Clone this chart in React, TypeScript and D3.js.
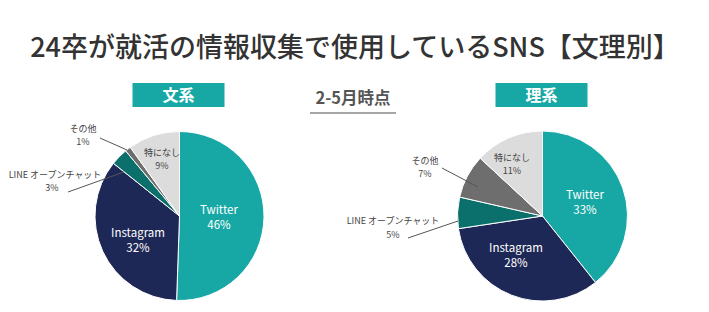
import React from "react";
import * as d3 from "d3";

// 2-5月時点の集計値（ラベルに表示されている数値）
const categories = ["Twitter", "Instagram", "LINE オープンチャット", "その他", "特になし"];
const bunkeiValues = [46, 32, 3, 1, 9];
const rikeiValues = [33, 28, 5, 7, 11];
const colors = ["#17a8a5", "#1e2856", "#0b6f6c", "#6e6e6e", "#dcdcdc"];

const FONT = "'Noto Sans CJK JP', 'Noto Sans', sans-serif";

type LabelSpec = {
  x: number;
  y: number;
  size: number;
  gap: number;
  color: string;
  x2?: number;
  line?: [number, number, number, number];
};

function Pie({ cx, cy, r, values, title, labels }: { cx: number; cy: number; r: number; values: number[]; title: string; labels: LabelSpec[] }) {
  const pie = d3.pie<number>().sort(null).value((d) => d);
  const arc = d3.arc<d3.PieArcDatum<number>>().innerRadius(0).outerRadius(r);
  const arcs = pie(values);

  return (
    <g>
      <rect x={cx - 47} y={83} width={92} height={24} fill="#17a8a5" />
      <text x={cx - 1} y={101} textAnchor="middle" fill="#fff" fontSize={16} fontWeight="bold" fontFamily={FONT}>
        {title}
      </text>
      <g transform={`translate(${cx},${cy})`}>
        {arcs.map((a, i) => (
          <path key={i} d={arc(a) || ""} fill={colors[i]} stroke="#fff" strokeWidth={1} />
        ))}
      </g>
      {labels.map((l, i) => (
        <g key={i}>
          {l.line && <line x1={l.line[0]} y1={l.line[1]} x2={l.line[2]} y2={l.line[3]} stroke="#555" strokeWidth={1} />}
          <text x={l.x} y={l.y} textAnchor="middle" fill={l.color} fontSize={l.size} fontFamily={FONT}>
            {categories[i]}
          </text>
          <text x={l.x2 ?? l.x} y={l.y + l.gap} textAnchor="middle" fill={l.color} fontSize={l.size} fontFamily={FONT}>
            {values[i]}%
          </text>
        </g>
      ))}
    </g>
  );
}

export default function App() {
  const leftLabels: LabelSpec[] = [
    { x: 219, y: 214, size: 11.5, gap: 15, color: "#fff" },
    { x: 138, y: 237, size: 11.5, gap: 15, color: "#fff" },
    { x: 55, y: 178, x2: 52, size: 9, gap: 13, color: "#444", line: [68, 192, 124, 172] },
    { x: 83, y: 132, size: 9, gap: 13, color: "#444", line: [100, 138, 127, 150] },
    { x: 162, y: 156, size: 9, gap: 12.5, color: "#444" },
  ];
  const rightLabels: LabelSpec[] = [
    { x: 585, y: 199, size: 11.5, gap: 15, color: "#fff" },
    { x: 516, y: 252, size: 11.5, gap: 15, color: "#fff" },
    { x: 393, y: 224, size: 9, gap: 14, color: "#444", line: [408, 238, 458, 221] },
    { x: 425, y: 164, size: 9, gap: 12.5, color: "#444", line: [442, 168, 478, 187] },
    { x: 512, y: 161, size: 9, gap: 12.5, color: "#444" },
  ];

  return (
    <svg width={709} height={312} style={{ position: "absolute", left: 0, top: 0, background: "#fff" }}>
      <text x={355} y={57} textAnchor="middle" fill="#333" fontSize={27} fontWeight={500} fontFamily={FONT}>
        24卒が就活の情報収集で使用しているSNS【文理別】
      </text>
      <text x={353} y={104} textAnchor="middle" fill="#555" fontSize={16.5} fontWeight="bold" fontFamily={FONT}>
        2-5月時点
      </text>
      <line x1={310} y1={113} x2={396} y2={113} stroke="#888" strokeWidth={1.5} />
      <Pie cx={179.5} cy={216} r={84.5} values={bunkeiValues} title="文系" labels={leftLabels} />
      <Pie cx={542.5} cy={216} r={85} values={rikeiValues} title="理系" labels={rightLabels} />
    </svg>
  );
}
